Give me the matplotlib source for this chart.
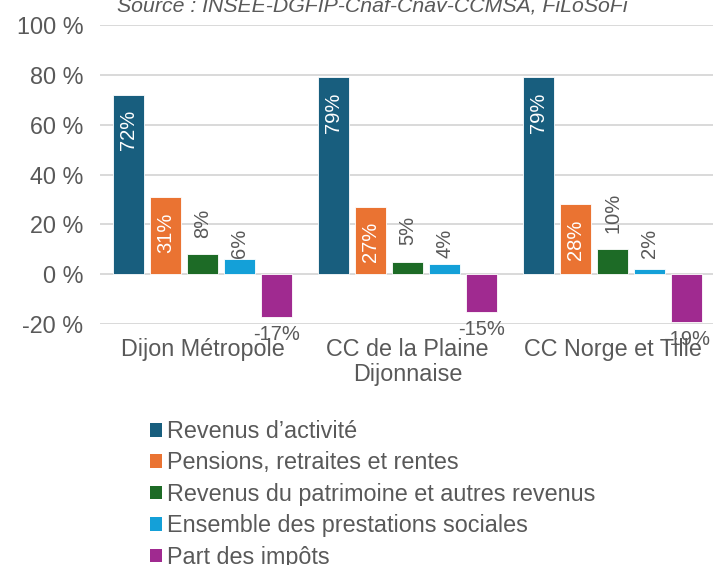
import numpy as np
import matplotlib
matplotlib.use("Agg")
import matplotlib.pyplot as plt
from matplotlib.patches import Patch

plt.rcParams['font.family'] = ['Liberation Sans', 'DejaVu Sans']

categories = ["Dijon Métropole", "CC de la Plaine\nDijonnaise", "CC Norge et Tille"]
series = ["Revenus d\u2019activité",
          "Pensions, retraites et rentes",
          "Revenus du patrimoine et autres revenus",
          "Ensemble des prestations sociales",
          "Part des impôts"]
values = [
    [72, 79, 79],
    [31, 27, 28],
    [8, 5, 10],
    [6, 4, 2],
    [-17, -15, -19],
]
colors = ["#185E7E", "#EA7332", "#1D6B26", "#14A0D8", "#A02A90"]
yticks = [-20, 0, 20, 40, 60, 80, 100]
source = "Source : INSEE-DGFIP-Cnaf-Cnav-CCMSA, FiLoSoFi"

gray = "#595959"
W, H = 713, 565
fig = plt.figure(figsize=(W / 100, H / 100), dpi=100)
ax = fig.add_axes([100 / W, 1 - 324 / H, 615 / W, 299 / H])

x = np.arange(len(categories))
step = 0.1805
width = 0.156
for i, (name, vals, c) in enumerate(zip(series, values, colors)):
    xs = x + (i - 2) * step
    ax.bar(xs, vals, width, color=c, edgecolor="white", linewidth=0.6, zorder=3)
    for xi, v in zip(xs, vals):
        if i in (0, 1):
            # étiquettes à l'intérieur, en blanc
            ax.annotate(f"{v}%", (xi, v), xytext=(0, -11), textcoords="offset points",
                        rotation=90, ha="center", va="top", color="white", fontsize=14.5)
        elif i == 2:
            ax.annotate(f"{v}%", (xi, v), xytext=(0, 12), textcoords="offset points",
                        rotation=90, ha="center", va="bottom", color=gray, fontsize=14.5)
        elif i == 3:
            ax.annotate(f"{v}%", (xi, 0), xytext=(0, 12), textcoords="offset points",
                        rotation=90, ha="center", va="bottom", color=gray, fontsize=14.5)
        else:
            ax.annotate(f"{v}%", (xi, v), xytext=(0, -6), textcoords="offset points",
                        ha="center", va="top", color=gray, fontsize=14.5)

ax.set_xlim(-0.5, 2.5)
ax.set_ylim(-20, 100)
ax.set_yticks(yticks)
ax.set_yticklabels([f"{t} %" for t in yticks])
ax.set_xticks(x)
ax.set_xticklabels(categories, linespacing=1.1)
ax.tick_params(axis="both", length=0, colors=gray, labelsize=16.8)
ax.tick_params(axis="y", pad=12)
ax.tick_params(axis="x", pad=10)
ax.grid(axis="y", color="#D9D9D9", linewidth=1.4, zorder=0)
for s in ax.spines.values():
    s.set_visible(False)

fig.text(117 / W, 1 - 12 / H, source, fontsize=15.35, style="italic",
         color=gray, ha="left", va="baseline")

handles = [Patch(facecolor=c, label=n) for c, n in zip(colors, series)]
fig.legend(handles=handles, loc="upper left", bbox_to_anchor=(150 / W, 1 - 420 / H),
           frameon=False, fontsize=16.8, labelcolor=gray, handlelength=0.52,
           handleheight=0.52, handletextpad=0.22, labelspacing=0.36,
           borderpad=0, borderaxespad=0)

fig.savefig("out.png", dpi=100)
